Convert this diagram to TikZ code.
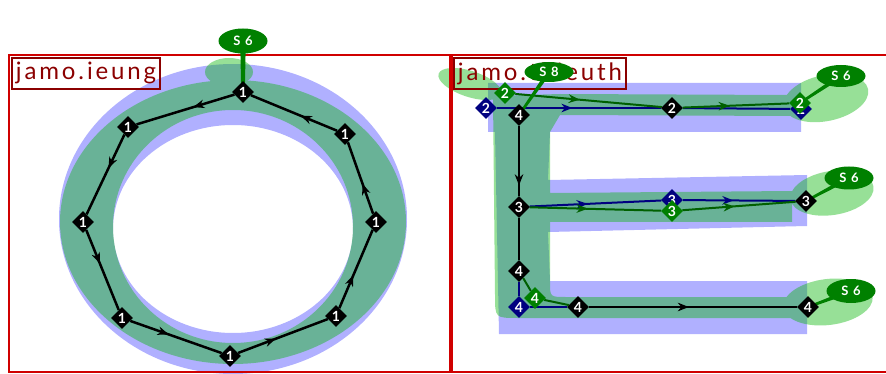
\documentclass[tikz,border=0pt]{standalone}
\usepackage{fontspec}
\setmainfont{Lato}
\newfontfamily\labfont[LetterSpace=12]{Lato}
\newfontfamily\tagfont[LetterSpace=10]{Lato}
\usetikzlibrary{shapes.geometric,arrows.meta,decorations.markings,calc}
\pgfdeclarelayer{bg}
\pgfdeclarelayer{lines}
\pgfsetlayers{bg,lines,main}
\definecolor{framered}{RGB}{208,0,0}
\definecolor{labred}{RGB}{139,0,0}
\definecolor{lblue}{RGB}{176,176,255}
\definecolor{gfill}{RGB}{8,181,8}
\definecolor{dgreen}{RGB}{0,128,0}
\definecolor{lgreen}{RGB}{0,96,0}
\definecolor{navy}{RGB}{0,0,128}
\tikzset{
  dia/.style={diamond, fill=#1, text=white, inner sep=0pt, minimum width=22pt, minimum height=22pt, font=\bfseries\fontsize{14}{14}\selectfont},
  bub/.style={ellipse, fill=dgreen, text=white, inner sep=0pt, minimum width=49pt, minimum height=#1, font=\tagfont\bfseries\fontsize{13}{13}\selectfont},
  arr/.style={postaction={decorate}, decoration={markings, mark=at position #1 with {\arrow{Stealth[length=11pt,width=8.5pt,inset=3.5pt]}}}},
  blk/.style={draw=black, line width=2.5pt},
  nvl/.style={draw=navy, line width=2pt},
  grl/.style={draw=lgreen, line width=2pt},
  labbox/.style={draw=labred, line width=1.8pt, text=labred, font=\labfont\fontsize{24}{26}\selectfont, inner xsep=4pt, minimum height=31pt, anchor=north west},
  framel/.style={draw=framered, line width=2.2pt}
}
\newcommand\tailto[4]{\fill[dgreen] ($(#1.center)!#3!90:(#2.center)$) -- ($(#2.center)!#4!-90:(#1.center)$) -- ($(#2.center)!#4!90:(#1.center)$) -- ($(#1.center)!#3!-90:(#2.center)$) -- cycle;}
\begin{document}
\begin{tikzpicture}[x=1pt,y=-1pt]
\useasboundingbox (0,0) rectangle (886,374);
% ---------- ring nodes ----------
\node[dia=black] (r1) at (243,92) {1};
\node[dia=black] (r2) at (128,127) {1};
\node[dia=black] (r3) at (83,222) {1};
\node[dia=black] (r4) at (122,318) {1};
\node[dia=black] (r5) at (230,356) {1};
\node[dia=black] (r6) at (336,316) {1};
\node[dia=black] (r7) at (376,222) {1};
\node[dia=black] (r8) at (345,134) {1};
% ---------- E nodes ----------
\node[dia=navy] (n2a) at (486,108) {2};
\node[dia=dgreen] (g2a) at (505,93) {2};
\node[dia=black] (b4a) at (519,115) {4};
\node[dia=black] (b2) at (672,108) {2};
\node[dia=navy] (n2b) at (801,109) {2};
\node[dia=dgreen] (g2b) at (800,103) {2};
\node[dia=black] (b3a) at (519,207) {3};
\node[dia=navy] (n3) at (672,200) {3};
\node[dia=dgreen] (g3) at (672,211) {3};
\node[dia=black] (b3b) at (806,201) {3};
\node[dia=black] (b4b) at (519,271) {4};
\node[dia=navy] (n4) at (519,307) {4};
\node[dia=dgreen] (g4) at (535,298) {4};
\node[dia=black] (b4c) at (578,307) {4};
\node[dia=black] (b4d) at (808,307) {4};
% ---------- bubbles ----------
\node[bub=25pt] (sR) at (243,41) {S 6};
\node[bub=20pt] (s8) at (549,72) {S 8};
\node[bub=22pt] (s6a) at (841,76) {S 6};
\node[bub=23pt] (s6b) at (849,178) {S 6};
\node[bub=24pt] (s6c) at (851,291) {S 6};
% ---------- background ----------
\begin{pgfonlayer}{bg}
  \fill[lblue, even odd rule] (233,219) ellipse [x radius=174pt, y radius=155pt]
                              (233,229) ellipse [x radius=120pt, y radius=104pt];
  \fill[lblue] (488,83) -- (801,83) -- (801,132) -- (550,132) -- (548,180) -- (807,175)
     -- (807,226) -- (548,232) -- (550,281) -- (807,281) -- (807,334) -- (499,334)
     -- (495,132) -- (488,132) -- cycle;
  \begin{scope}[transparency group, opacity=0.42]
    \fill[gfill, even odd rule] (233,222) ellipse [x radius=173pt, y radius=142pt]
                                (233,226.5) ellipse [x radius=120pt, y radius=116.5pt];
    \fill[gfill] (229,72) ellipse [x radius=24pt, y radius=14pt];
    \fill[gfill] (493,96) -- (560,94) -- (792,95) -- (792,116) -- (560,115) -- (550,132)
       -- (550,193) -- (792,191) -- (792,222) -- (550,222) -- (550,282)
       .. controls (550,297) .. (566,297) -- (792,297) -- (792,318) -- (518,318)
       .. controls (495,318) .. (495,295) -- cycle;
    \fill[gfill, rotate around={-18:(470,84)}] (470,84) ellipse [x radius=33pt, y radius=13pt];
    \fill[gfill, rotate around={12:(826,98)}] (826,98) ellipse [x radius=43pt, y radius=23pt];
    \fill[gfill, rotate around={9:(832,193)}] (832,193) ellipse [x radius=42pt, y radius=22pt];
    \fill[gfill, rotate around={7:(828,302)}] (828,302) ellipse [x radius=45pt, y radius=23pt];
  \end{scope}
  \draw[framel] (9,55) rectangle (450,372);
  \draw[framel] (886,55) -- (452,55) -- (452,372) -- (886,372);
  \node[labbox] (lab1) at (11,57) {jamo.ieung};
  \node[labbox] (lab2) at (453,57) {jamo.thieuth};
\end{pgfonlayer}
% ---------- connectors ----------
\begin{pgfonlayer}{lines}
  \draw[blk, arr=0.42] (r1) -- (r2);
  \draw[blk, arr=0.42] (r2) -- (r3);
  \draw[blk, arr=0.42] (r3) -- (r4);
  \draw[blk, arr=0.42] (r4) -- (r5);
  \draw[blk, arr=0.42] (r5) -- (r6);
  \draw[blk, arr=0.42] (r6) -- (r7);
  \draw[blk, arr=0.42] (r7) -- (r8);
  \draw[blk, arr=0.42] (r8) -- (r1);
  \draw[nvl, arr=0.46] (n2a) -- (b2);
  \draw[nvl] (b2) -- (n2b);
  \draw[grl, arr=0.44] (g2a) -- (b2);
  \draw[grl, arr=0.44] (b2) -- (g2b);
  \draw[blk, arr=0.85] (b4a) -- (b3a);
  \draw[blk] (b3a) -- (b4b);
  \draw[nvl, arr=0.44] (b3a) -- (n3);
  \draw[nvl, arr=0.45] (n3) -- (b3b);
  \draw[grl, arr=0.44] (b3a) -- (g3);
  \draw[grl, arr=0.46] (g3) -- (b3b);
  \draw[nvl] (b4b) -- (n4);
  \draw[nvl] (n4) -- (b4c);
  \draw[grl] (b4b) -- (g4);
  \draw[grl] (g4) -- (b4c);
  \draw[blk, arr=0.48] (b4c) -- (b4d);
  \tailto{sR}{r1}{2.8pt}{1.8pt}
  \tailto{s8}{b4a}{2.2pt}{1.2pt}
  \tailto{s6a}{g2b}{2.2pt}{1.2pt}
  \tailto{s6b}{b3b}{2.2pt}{1.2pt}
  \tailto{s6c}{b4d}{2.2pt}{1.2pt}
\end{pgfonlayer}
\end{tikzpicture}
\end{document}
